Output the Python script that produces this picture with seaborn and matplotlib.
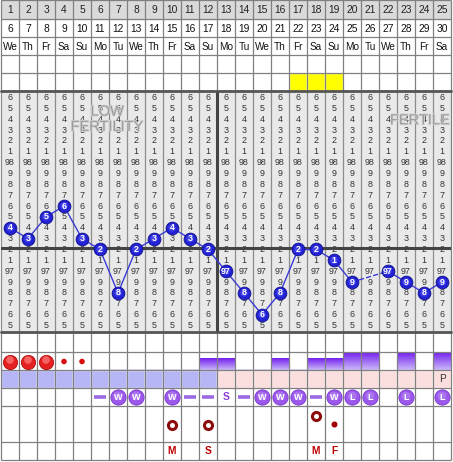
import numpy as np
import pandas as pd
import matplotlib
matplotlib.use("Agg")
import matplotlib.pyplot as plt
from matplotlib.colors import LinearSegmentedColormap
import matplotlib.patheffects as pe
import seaborn as sns

# ---- chart data -------------------------------------------------------
cycle_days = [1, 2, 3, 4, 5, 6, 7, 8, 9, 10, 11, 12, 13, 14, 15, 16, 17, 18, 19, 20, 21, 22, 23, 24, 25]
dates = [6, 7, 8, 9, 10, 11, 12, 13, 14, 15, 16, 17, 18, 19, 20, 21, 22, 23, 24, 25, 26, 27, 28, 29, 30]
weekdays = ["We", "Th", "Fr", "Sa", "Su", "Mo", "Tu", "We", "Th", "Fr", "Sa", "Su", "Mo",
            "Tu", "We", "Th", "Fr", "Sa", "Su", "Mo", "Tu", "We", "Th", "Fr", "Sa"]
temps = [97.4, 97.3, 97.5, 97.6, 97.3, 97.2, 96.8, 97.2, 97.3, 97.4, 97.3, 97.2, 97.0,
         96.8, 96.6, 96.8, 97.2, 97.2, 97.1, 96.9, np.nan, 97.0, 96.9, 96.8, 96.9]
temp_scale = [98.6, 98.5, 98.4, 98.3, 98.2, 98.1, 98.0, 97.9, 97.8, 97.7, 97.6,
              97.5, 97.4, 97.3, 97.2, 97.1, 97.0, 96.9, 96.8, 96.7, 96.6, 96.5]
coverline = 97.21
ovulation_after_day = 12
fertile_days = [17, 18, 19]

menses_days = [1, 2, 3, 4, 5]
menses_flow = ["heavy", "heavy", "heavy", "spotting", "spotting"]

cf_days = [6, 7, 8, 9, 10, 11, 12, 13, 14, 15, 16, 17, 18, 19, 20, 21, 23, 25]
cf_level = [1, 1, 1, 1, 1, 1, 2, 2, 1, 1, 2, 1, 2, 2, 3, 3, 3, 3]

pre_phase_days = [1, 2, 3, 4, 5, 6, 7, 8, 9, 10, 11, 12]
post_phase_days = [13, 14, 15, 16, 17, 18, 19, 20, 21, 22, 23, 24, 25]
phase_note_day, phase_note = 25, "P"

fluid_days = [6, 7, 8, 10, 11, 12, 13, 14, 15, 16, 17, 18, 19, 20, 21, 23, 25]
fluid_marks = ["-", "W", "W", "W", "-", "-", "S", "-", "W", "W", "W", "-", "W", "L", "L", "L", "L"]

ring_days = [10, 12, 18]
ring_rows = ["low", "low", "high"]
dot_days = [19]

note_days = [10, 12, 18, 19]
note_text = ["M", "S", "M", "F"]

# ---- layout (pixel rows of the chart grid) ------------------------------
W, H = 453, 462
header_rows = [0, 19, 37, 55, 73, 91]
temp_top, temp_bottom = 91, 332
lower_rows = [332, 352, 370, 388, 406, 442, 460]
grid_col = "#808080"

sns.set_theme(style="white")
plt.rcParams["font.family"] = ["Liberation Sans", "DejaVu Sans"]

fig = plt.figure(figsize=(W / 100, H / 100), dpi=100)
fig.patch.set_facecolor("white")


def fy(py):
    return 1 - py / H


left, width = 1 / W, 450 / W
edges = np.arange(0.5, len(cycle_days) + 1)

# grid axes: x in cycle days, y in pixel rows
gax = fig.add_axes([left, fy(460), width, 460 / H])
gax.set_xlim(0.5, 25.5)
gax.set_ylim(460, 0)
gax.axis("off")

# header rows
gax.axhspan(0, 19, color="#dadada", zorder=0)
gax.bar(fertile_days, [18] * len(fertile_days), bottom=73, width=1.0,
        color="#ffff00", zorder=1)
for d, dt, wd in zip(cycle_days, dates, weekdays):
    gax.text(d, 10, str(d), ha="center", va="center", fontsize=7.4, color="#222222")
    gax.text(d, 28.5, str(dt), ha="center", va="center", fontsize=7.4, color="#111111")
    gax.text(d, 46.5, wd, ha="center", va="center", fontsize=7.2, color="#111111")

# phase band
gax.bar(pre_phase_days, [18] * len(pre_phase_days), bottom=370, width=1.0,
        color="#b6b6f6", zorder=1)
gax.bar(post_phase_days, [18] * len(post_phase_days), bottom=370, width=1.0,
        color="#fbdfdf", zorder=1)
gax.text(phase_note_day, 379.5, phase_note, ha="center", va="center",
         fontsize=7.2, color="#333333", zorder=4)

# cervical fluid bars with vertical gradient
cf_cmap = LinearSegmentedColormap.from_list("cf", ["#7420ee", "#cbb8fa"])
grad = np.linspace(0, 1, 64).reshape(-1, 1)
level_h = {1: 2.5, 2: 12, 3: 18}
for d, lv in zip(cf_days, cf_level):
    h = level_h[lv]
    if lv == 1:
        gax.bar(d, h, bottom=370 - h, width=1.0, color="#cdbdf6", zorder=1)
    else:
        gax.imshow(grad, extent=[d - 0.5, d + 0.5, 370, 370 - h], origin="upper",
                   cmap=cf_cmap, aspect="auto", zorder=1, interpolation="bilinear")
gax.set_xlim(0.5, 25.5)
gax.set_ylim(460, 0)

# menstruation markers
flow_df = pd.DataFrame({"day": menses_days, "flow": menses_flow})
heavy = flow_df[flow_df.flow == "heavy"]
spot = flow_df[flow_df.flow == "spotting"]
sns.scatterplot(x=heavy.day, y=[361.5] * len(heavy), s=105, color="#e42020",
                edgecolor="#b01010", linewidth=0.6, ax=gax, zorder=5, legend=False)
sns.scatterplot(x=heavy.day, y=[360] * len(heavy), s=30, color="#ff8080",
                edgecolor="none", ax=gax, zorder=6, legend=False, alpha=0.7)
sns.scatterplot(x=spot.day, y=[361.5] * len(spot), s=16, color="#d81010",
                edgecolor="none", ax=gax, zorder=5, legend=False)

# fluid observation row
for d, m in zip(fluid_days, fluid_marks):
    if m == "-":
        gax.plot(d, 397, marker="_", ms=9, mew=2.6, color="#9a6ae4", zorder=5)
    elif m == "S":
        gax.text(d, 397.5, "S", ha="center", va="center", fontsize=7.5,
                 fontweight="bold", color="#8a40d6", zorder=5)
    else:
        gax.scatter(d, 397, s=120, color="#9b58ea", edgecolor="#7a36d2",
                    linewidth=0.6, zorder=5)
        gax.scatter(d, 396, s=40, color="#b68af2", edgecolor="none",
                    alpha=0.6, zorder=5)
        gax.text(d, 397.5, m, ha="center", va="center", fontsize=6.6,
                 fontweight="bold", color="white", zorder=6)

# intercourse / notes rows
ring_y = {"low": 425, "high": 416}
gax.scatter(ring_days, [ring_y[r] for r in ring_rows], s=34, facecolor="white",
            edgecolor="#8c0c0c", linewidth=2.2, zorder=5)
gax.scatter(dot_days, [424] * len(dot_days), s=11, color="#a00000", zorder=5)
for d, t in zip(note_days, note_text):
    gax.text(d, 451.5, t, ha="center", va="center", fontsize=7.4,
             fontweight="bold", color="#c00000", zorder=5)

# grid lines
gax.vlines(edges, 0, 460, color=grid_col, lw=0.9, zorder=3, clip_on=False)
gax.hlines(header_rows + lower_rows, 0.5, 25.5, color=grid_col, lw=0.9,
           zorder=3, clip_on=False)

# temperature axes: x in cycle days, y in degrees
tax = fig.add_axes([left, fy(temp_bottom), width, (temp_bottom - temp_top) / H])
tlo, thi = 96.44, 98.66
tax.set_xlim(0.5, 25.5)
tax.set_ylim(tlo, thi)
tax.set_facecolor("#e9e9e9")
for s in tax.spines.values():
    s.set_visible(False)
tax.tick_params(left=False, bottom=False, labelleft=False, labelbottom=False)
tax.vlines(edges, tlo, thi, color="#8c8c8c", lw=0.9, zorder=1)


def scale_label(v):
    tenth = int(round(v * 10)) % 10
    return str(int(round(v))) if tenth == 0 else str(tenth)


for d in cycle_days:
    for v in temp_scale:
        tax.text(d, v, scale_label(v), ha="center", va="center", fontsize=6.4,
                 color="#333333", zorder=2)

zone_style = dict(fontsize=10.5, color="#9c9c9c", zorder=3,
                  path_effects=[pe.withStroke(linewidth=1.2, foreground="#d4d4d4")])
tax.text(6.4, 98.47, "LOW", ha="center", va="center", **zone_style)
tax.text(6.4, 98.33, "FERTILITY", ha="center", va="center", **zone_style)
tax.text(25.45, 98.39, "FERTILE", ha="right", va="center", **zone_style)

tax.axhline(coverline, color="#444444", lw=2.2, zorder=3)
tax.axvline(ovulation_after_day + 0.5, color="#444444", lw=2.2, zorder=3)
tax.axhline(thi, color="#555555", lw=2.0, zorder=3, clip_on=False)
tax.axhline(tlo, color="#555555", lw=2.0, zorder=3, clip_on=False)

temp_df = pd.DataFrame({"day": cycle_days, "temp": temps})
obs = temp_df.dropna().copy()
obs["segment"] = (obs["day"].diff() > 1).cumsum()
sns.lineplot(data=obs, x="day", y="temp", units="segment", estimator=None,
             color="#3a3ad6", lw=1.0, ax=tax, legend=False, zorder=4)
gap_rows = obs.index[obs["day"].diff() > 1]
for gi in gap_rows:
    pos = obs.index.get_loc(gi)
    pair = obs.iloc[pos - 1:pos + 1]
    sns.lineplot(data=pair, x="day", y="temp", color="#3a3ad6", lw=1.0,
                 linestyle="--", ax=tax, legend=False, zorder=4)
sns.scatterplot(data=obs, x="day", y="temp", s=85, color="#2222d4",
                edgecolor="#12128a", linewidth=0.6, ax=tax, zorder=5, legend=False)
sns.scatterplot(data=obs, x="day", y="temp", s=28, color="#5858f4",
                edgecolor="none", ax=tax, zorder=5, legend=False, alpha=0.6)
for d, t in zip(obs["day"], obs["temp"]):
    tax.text(d, t, scale_label(t), ha="center", va="center", fontsize=6.4,
             fontweight="bold", color="white", zorder=6)
tax.set_xlabel("")
tax.set_ylabel("")
tax.set_xlim(0.5, 25.5)
tax.set_ylim(tlo, thi)

fig.savefig("out.png", dpi=100, facecolor="white")
